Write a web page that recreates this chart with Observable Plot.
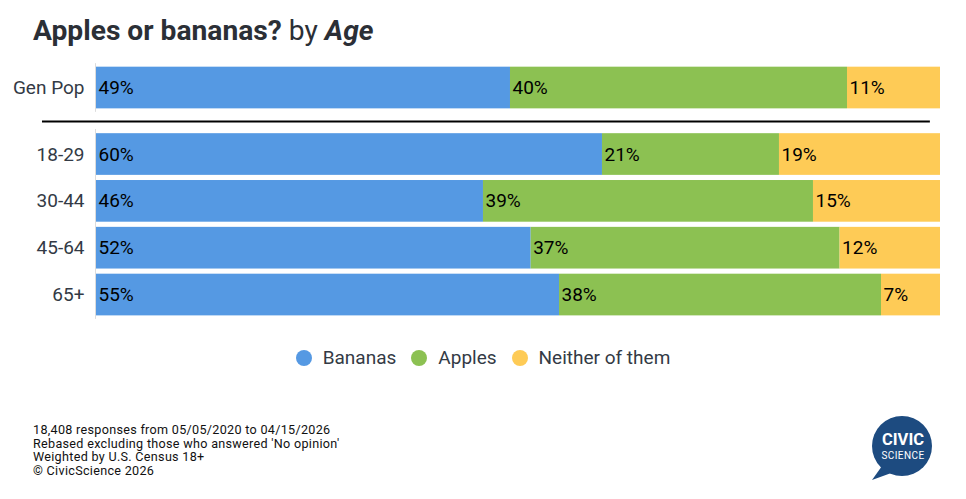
<!DOCTYPE html>
<html>
<head>
<meta charset="utf-8">
<script src="https://cdn.jsdelivr.net/npm/d3@7"></script>
<script src="https://cdn.jsdelivr.net/npm/@observablehq/plot@0.6"></script>
<style>
  body { margin: 0; background: #fff; font-family: Roboto, "Noto Sans", sans-serif; }
  #page { position: relative; width: 966px; height: 499px; overflow: hidden; }
  #title { position: absolute; left: 33px; top: 14px; font-size: 28.2px; color: #2b2f36; white-space: nowrap; }
  #title b { font-weight: 700; }
  #chart { position: absolute; left: 0; top: 55px; }
  #legend { position: absolute; left: 0; width: 966px; top: 346px; display: flex; justify-content: center; gap: 15px; font-size: 19px; color: #333a45; }
  #legend .item { display: flex; align-items: center; gap: 11px; }
  #legend .dot { width: 16px; height: 16px; border-radius: 50%; display: inline-block; }
  #foot { position: absolute; left: 33px; top: 423px; font-size: 12.6px; letter-spacing: 0.3px; color: #111; }
  #foot div { height: 13.7px; line-height: 13.7px; white-space: nowrap; }
  #logo { position: absolute; left: 862px; top: 410px; }
</style>
</head>
<body>
<div id="page">
  <div id="title"><b>Apples or bananas?</b> by <b><i>Age</i></b></div>
  <div id="chart"></div>
  <div id="legend"></div>
  <div id="foot"><div>18,408 responses from 05/05/2020 to 04/15/2026</div><div>Rebased excluding those who answered 'No opinion'</div><div>Weighted by U.S. Census 18+</div><div>© CivicScience 2026</div></div>
  <svg id="logo" width="80" height="80" viewBox="0 0 80 80">
    <circle cx="40" cy="36" r="30" fill="#1d4b80"/>
    <path d="M20 56 L10 70 L32 62 Z" fill="#1d4b80"/>
    <text x="41" y="35" text-anchor="middle" fill="#fff" font-family="Roboto, sans-serif" font-weight="700" font-size="16.5">CIVIC</text>
    <text x="41" y="48.5" text-anchor="middle" fill="#fff" font-family="Roboto, sans-serif" font-weight="400" font-size="10" letter-spacing="0.4">SCIENCE</text>
  </svg>
</div>
<script>
const categories = ["Gen Pop", "18-29", "30-44", "45-64", "65+"];
const rowPos = [0, 1.42, 2.42, 3.42, 4.42];
const series = ["Bananas", "Apples", "Neither of them"];
const bananas = [49.05, 59.95, 45.85, 51.5, 54.86];
const apples = [39.93, 20.97, 39.1, 36.6, 38.15];
const neither = [11.02, 19.08, 15.05, 11.9, 6.99];
const colors = ["#5599e3", "#8cc152", "#fecb56"];

const valuesBySeries = [bananas, apples, neither];
const half = 0.445;
const rows = [];
categories.forEach((cat, i) => {
  let cum = 0;
  series.forEach((s, j) => {
    const v = valuesBySeries[j][i];
    rows.push({cat, series: s, x1: cum, x2: cum + v, y1: rowPos[i] - half, y2: rowPos[i] + half, y: rowPos[i], label: Math.round(v) + "%"});
    cum += v;
  });
});
const catRows = categories.map((c, i) => ({cat: c, y: rowPos[i]}));
const groupLines = [{y1: -0.52, y2: 0.52}, {y1: 0.886, y2: 4.94}];
const separator = [{y: 0.715, x1: -6.4, x2: 98.8}];

const chart = Plot.plot({
  width: 966,
  height: 280,
  marginLeft: 96,
  marginRight: 26,
  marginTop: 0,
  marginBottom: 0,
  style: {fontFamily: "Roboto, sans-serif", overflow: "visible"},
  x: {domain: [0, 100], axis: null},
  y: {domain: [-0.5, 5], range: [9.1, 266.7], axis: null},
  color: {domain: series, range: colors},
  marks: [
    Plot.ruleX(groupLines, {x: 0, y1: "y1", y2: "y2", stroke: "#dcdcdc", strokeWidth: 1, dx: -1}),
    Plot.rect(rows, {x1: "x1", x2: "x2", y1: "y1", y2: "y2", fill: "series"}),
    Plot.text(rows, {x: "x1", y: "y", text: "label", textAnchor: "start", dx: 2, fill: "#000", fontSize: 19}),
    Plot.text(catRows, {x: 0, y: "y", text: "cat", textAnchor: "end", dx: -12, fill: "#333a45", fontSize: 19}),
    Plot.ruleY(separator, {y: "y", x1: "x1", x2: "x2", stroke: "#000", strokeWidth: 2})
  ]
});
document.getElementById("chart").appendChild(chart);

const legend = document.getElementById("legend");
series.forEach((s, j) => {
  const item = document.createElement("div");
  item.className = "item";
  item.innerHTML = `<span class="dot" style="background:${colors[j]}"></span><span>${s}</span>`;
  legend.appendChild(item);
});
</script>
</body>
</html>
